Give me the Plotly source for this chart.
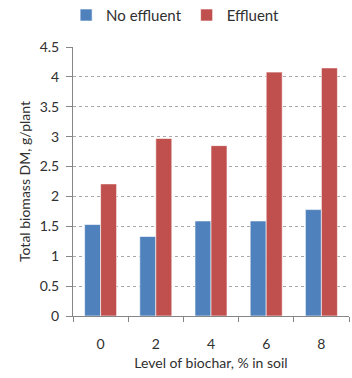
import plotly.graph_objects as go

categories = ["0", "2", "4", "6", "8"]
no_effluent = [1.53, 1.33, 1.59, 1.59, 1.78]
effluent = [2.21, 2.97, 2.85, 4.08, 4.15]
y_ticks = [0, 0.5, 1, 1.5, 2, 2.5, 3, 3.5, 4, 4.5]
y_tick_text = ["0", "0.5", "1", "1.5", "2", "2.5", "3", "3.5", "4", "4.5"]

font = "Lato, Open Sans, sans-serif"
txt = "#303030"

fig = go.Figure()
fig.add_trace(go.Bar(x=categories, y=no_effluent, name="No effluent",
                     marker=dict(color="#4F81BD", line=dict(color="rgba(255,255,255,0.6)", width=1))))
fig.add_trace(go.Bar(x=categories, y=effluent, name="Effluent",
                     marker=dict(color="#C0504D", line=dict(color="rgba(255,255,255,0.6)", width=1))))

fig.update_layout(
    width=352, height=378,
    margin=dict(l=73, r=3, t=47, b=62, autoexpand=False),
    paper_bgcolor="white", plot_bgcolor="white",
    barmode="group", bargap=0.42, bargroupgap=0,
    font=dict(family=font, size=14, color=txt),
    legend=dict(orientation="h", x=0.37, xanchor="center", y=1.118, yanchor="middle",
                font=dict(size=15, color=txt),
                itemwidth=30, traceorder="normal"),
    xaxis=dict(
        type="category", showline=True, linecolor="#868686", linewidth=1,
        ticks="outside", tickson="boundaries", ticklen=5, tickcolor="#868686",
        showgrid=False, ticklabelstandoff=15,
        title=dict(text="Level of biochar, % in soil", font=dict(size=14, color=txt), standoff=7),
        tickfont=dict(size=14, color=txt),
    ),
    yaxis=dict(
        range=[0, 4.5], tickvals=y_ticks, ticktext=y_tick_text,
        showline=True, linecolor="#868686", linewidth=1,
        ticks="outside", ticklen=6, tickcolor="#868686",
        showgrid=True, gridcolor="#A8A8A8", griddash="dot", gridwidth=1,
        zeroline=False, ticklabelstandoff=4,
        title=dict(text="Total biomass DM, g/plant", font=dict(size=14, color=txt), standoff=5),
        tickfont=dict(size=14, color=txt),
    ),
)

fig.write_html("out.html", config={"displayModeBar": False},
               post_script="document.body.style.margin='0';")
